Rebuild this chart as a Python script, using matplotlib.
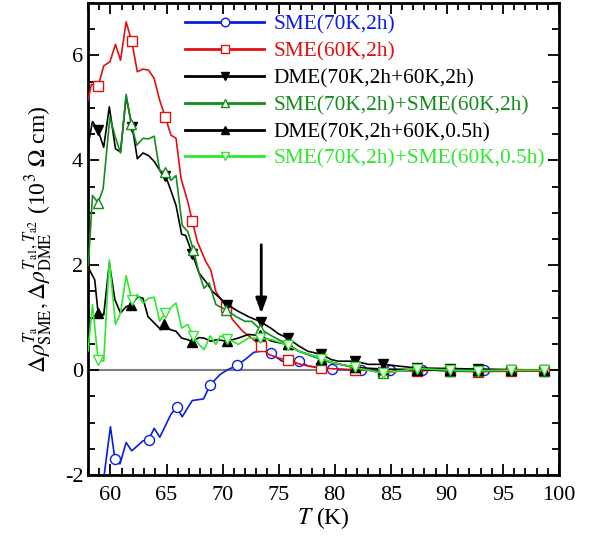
import numpy as np
import matplotlib
matplotlib.use("Agg")
from matplotlib import pyplot as plt
from matplotlib.ticker import MultipleLocator

plt.rcParams['font.family'] = ['Liberation Serif', 'DejaVu Serif']
plt.rcParams['mathtext.fontset'] = 'stix'
plt.rcParams['axes.unicode_minus'] = False

# --- data ---
labels = ['SME(70K,2h)', 'SME(60K,2h)', 'DME(70K,2h+60K,2h)',
          'SME(70K,2h)+SME(60K,2h)', 'DME(70K,2h+60K,0.5h)',
          'SME(70K,2h)+SME(60K,0.5h)']

T_blue = [59.2, 60.0, 60.4, 60.85, 61.4, 61.9, 62.9, 63.4, 63.9, 64.4, 65.4, 65.9, 66.4, 67.3,
          68.3, 68.9, 69.8, 70.4, 71.3, 72.0, 72.8, 73.4, 73.8, 74.3, 75.3, 76.8, 77.6, 78.8,
          79.8, 82.3, 84.9, 87.8, 90.4, 93.3, 96.0, 99.0]
y_blue = [-2.4, -1.08, -1.70, -1.79, -1.38, -1.54, -1.35, -1.33, -1.11, -1.28, -0.84, -0.71,
          -0.89, -0.58, -0.55, -0.28, -0.08, 0.0, 0.095, 0.20, 0.34, 0.36, 0.36, 0.32, 0.17,
          0.17, 0.08, 0.04, 0.02, 0.0, 0.0, 0.0, 0.0, 0.0, 0.0, 0.0]
mk_blue = [60.4, 63.4, 65.9, 68.9, 71.3, 74.3, 76.8, 79.8, 82.3, 84.9, 87.8, 93.3]

T_red = [58.0, 58.3, 58.9, 59.4, 59.95, 60.45, 60.9, 61.4, 61.9, 62.4, 62.9, 63.4, 63.9, 64.4,
         64.9, 65.4, 65.85, 66.3, 66.9, 67.3, 67.75, 68.5, 68.95, 69.4, 70.3, 70.9, 71.8, 72.6,
         73.4, 74.1, 75.0, 75.8, 76.8, 77.6, 78.8, 80.3, 81.8, 83.0, 84.3, 85.7, 87.3, 88.8,
         90.3, 92.8, 95.7, 98.7]
y_red = [5.14, 5.45, 5.41, 5.80, 5.88, 6.21, 5.91, 6.64, 6.27, 5.69, 5.74, 5.72, 5.56, 5.14,
         4.82, 4.48, 4.42, 3.65, 3.21, 2.84, 2.45, 2.07, 1.91, 1.50, 1.20, 0.96, 0.74, 0.61,
         0.46, 0.30, 0.23, 0.19, 0.12, 0.08, 0.04, 0.02, 0.0, 0.0, -0.04, -0.01, -0.02, 0.0,
         -0.02, -0.03, -0.02, -0.02]
mk_red = [58.9, 61.9, 64.9, 67.3, 70.3, 73.4, 75.8, 78.8, 81.8, 84.3, 87.3, 90.3, 92.8, 95.7, 98.7]

T_dme2 = [58.0, 58.4, 58.9, 59.4, 59.9, 60.45, 60.9, 61.4, 61.95, 62.4, 62.9, 63.4, 63.9, 64.4,
          64.9, 65.35, 65.85, 66.35, 66.7, 67.3, 67.9, 68.6, 69.1, 70.4, 71.4, 72.3, 73.4, 74.3,
          75.0, 75.8, 76.8, 77.6, 78.8, 79.7, 80.3, 81.8, 83.0, 84.3, 86.0, 87.3, 90.3, 92.8,
          95.7, 98.7]
y_dme2 = [4.28, 4.74, 4.57, 4.25, 5.02, 4.22, 4.16, 5.21, 4.63, 4.03, 4.14, 4.09, 3.98, 3.81,
          3.71, 3.45, 3.14, 2.59, 2.57, 2.22, 1.85, 1.66, 1.50, 1.25, 1.12, 1.02, 0.92, 0.80,
          0.69, 0.61, 0.46, 0.36, 0.30, 0.20, 0.17, 0.17, 0.11, 0.11, 0.07, 0.04, 0.03, 0.02,
          0.01, 0.0]
mk_dme2 = [58.9, 61.95, 64.9, 67.3, 70.4, 73.4, 75.8, 78.8, 81.8, 84.3, 87.3, 90.3, 92.8, 95.7, 98.7]

T_sum2 = [58.0, 58.4, 58.9, 59.35, 59.95, 60.4, 60.9, 61.4, 61.85, 62.35, 62.9, 63.4, 63.9,
          64.4, 64.9, 65.4, 65.85, 66.4, 66.9, 67.4, 67.9, 68.35, 68.8, 69.4, 70.3, 71.2, 72.0,
          72.6, 73.3, 74.4, 75.8, 76.8, 78.8, 79.7, 81.8, 84.3, 87.3, 90.3, 92.8, 95.7, 98.7]
y_sum2 = [1.9, 3.33, 3.19, 3.46, 4.82, 4.47, 4.14, 5.26, 4.69, 4.29, 4.42, 4.41, 4.46, 3.79,
          3.78, 3.62, 3.71, 2.76, 2.64, 2.29, 1.85, 1.56, 1.66, 1.25, 1.15, 1.02, 0.93, 0.93,
          0.79, 0.65, 0.49, 0.36, 0.20, 0.14, 0.05, -0.06, 0.02, -0.02, -0.02, 0.0, -0.01]
mk_sum2 = [58.9, 61.85, 64.9, 67.4, 70.3, 73.3, 75.8, 78.8, 81.8, 84.3, 87.3, 90.3, 92.8, 95.7, 98.7]

T_dme05 = [58.0, 58.6, 58.9, 59.4, 59.9, 60.4, 60.9, 61.4, 61.85, 62.45, 62.9, 63.35, 63.9,
           64.5, 64.8, 65.35, 65.85, 66.35, 66.9, 67.3, 67.9, 68.35, 68.95, 69.5, 70.4, 71.4,
           72.3, 73.3, 74.4, 75.8, 76.8, 78.8, 79.7, 81.8, 84.3, 87.3, 90.3, 92.8, 95.7, 98.7]
y_dme05 = [1.97, 1.72, 1.09, 1.05, 2.04, 1.34, 1.09, 1.21, 1.24, 1.40, 1.37, 1.02, 0.90, 0.77,
           0.87, 0.77, 0.74, 0.61, 0.58, 0.54, 0.62, 0.61, 0.55, 0.58, 0.55, 0.61, 0.68, 0.66,
           0.55, 0.49, 0.36, 0.22, 0.15, 0.05, 0.02, 0.01, 0.0, 0.0, 0.0, 0.0]
mk_dme05 = [58.9, 61.85, 64.8, 67.3, 70.4, 73.3, 75.8, 78.8, 81.8, 84.3, 87.3, 90.3, 92.8, 95.7, 98.7]

T_sum05 = [58.0, 58.4, 58.9, 59.4, 59.9, 60.45, 60.9, 61.4, 61.9, 62.4, 62.9, 63.4, 63.9, 64.4,
           64.9, 65.35, 65.85, 66.35, 66.9, 67.35, 67.9, 68.35, 68.9, 69.4, 69.8, 70.4, 71.4,
           72.3, 73.3, 74.4, 75.8, 76.8, 78.8, 79.7, 81.8, 84.3, 87.3, 90.3, 92.8, 95.7, 98.7]
y_sum05 = [0.36, 1.25, 0.20, 0.17, 2.10, 0.87, 1.09, 1.80, 1.34, 1.44, 1.28, 1.37, 1.39, 0.93,
           1.09, 1.18, 1.28, 0.80, 0.87, 0.65, 0.49, 0.39, 0.65, 0.49, 0.65, 0.60, 0.49, 0.61,
           0.61, 0.58, 0.48, 0.36, 0.22, 0.15, 0.05, -0.06, 0.03, 0.0, -0.01, 0.0, 0.0]
mk_sum05 = [58.9, 61.9, 64.9, 67.35, 70.4, 73.3, 75.8, 78.8, 81.8, 84.3, 87.3, 90.3, 92.8, 95.7, 98.7]

arrow_T = 73.45
arrow_from, arrow_to = 2.39, 1.08

series = [
    (T_blue, y_blue, mk_blue, '#0a1ee0', 'o', 'white'),
    (T_red, y_red, mk_red, '#e01010', 's', 'white'),
    (T_dme2, y_dme2, mk_dme2, 'black', 'v', 'black'),
    (T_sum2, y_sum2, mk_sum2, '#148c1e', '^', 'white'),
    (T_dme05, y_dme05, mk_dme05, 'black', '^', 'black'),
    (T_sum05, y_sum05, mk_sum05, '#2ee82e', 'v', 'white'),
]

fig = plt.figure(figsize=(6.04, 5.40), dpi=100)
ax = fig.add_axes([0.1457, 0.1204, 0.7798, 0.8740])

ax.axhline(0, color='#808080', lw=1.5, zorder=1)

for (T, y, mk, col, m, fc), lab in zip(series, labels):
    idx = [T.index(t) for t in mk]
    ax.plot(T, y, color=col, lw=1.2, marker=m, markevery=idx, ms=7.2,
            mfc=fc, mec=col, mew=1.0, label=lab, zorder=3)

ax.annotate('', xy=(arrow_T, arrow_to), xytext=(arrow_T, arrow_from),
            arrowprops=dict(arrowstyle='-|>,head_length=0.9,head_width=0.33',
                            color='black', lw=2, shrinkA=0, shrinkB=0))

ax.set_xlim(58, 100)
ax.set_ylim(-2, 7)
ax.xaxis.set_major_locator(MultipleLocator(5))
ax.xaxis.set_minor_locator(MultipleLocator(1))
ax.yaxis.set_major_locator(MultipleLocator(2))
ax.yaxis.set_minor_locator(MultipleLocator(0.5))
ax.tick_params(which='both', direction='in', top=True, right=True, width=1.3,
               labelsize=16)
ax.tick_params(which='major', length=8)
ax.tick_params(which='minor', length=5)
ax.tick_params(axis='x', pad=8)
for s in ax.spines.values():
    s.set_linewidth(2)

ax.set_xlabel(r'$T$ (K)', fontsize=17, labelpad=0)
ax.set_ylabel(r'$\Delta\rho^{T_{\rm a}}_{\rm SME}, \Delta\rho^{T_{\rm a1},T_{\rm a2}}_{\rm DME}$'
              r' (10$^3$ $\Omega$ cm)', fontsize=17, labelpad=7)

leg = ax.legend(loc='upper left', bbox_to_anchor=(0.206, 0.975), frameon=False,
                fontsize=15.4, handlelength=3.7, handletextpad=0.45,
                labelspacing=0.32, borderpad=0, borderaxespad=0, markerscale=0.85)
for line, text in zip(leg.get_lines(), leg.get_texts()):
    line.set_linewidth(2)
    text.set_color(line.get_color())

fig.savefig('out.png', dpi=100)
